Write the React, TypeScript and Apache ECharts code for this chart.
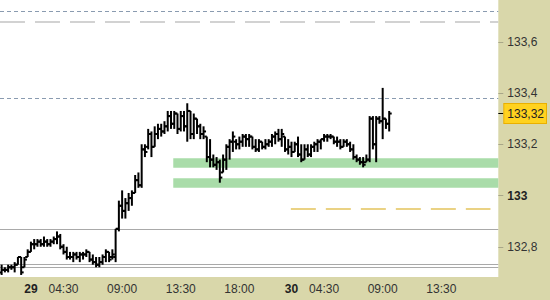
import React, { useEffect, useRef } from "react";
import * as echarts from "echarts";

// 15-minute bars, slot index on the x axis (session 02:00-22:00), slot 0 = 28th 19:45
const slotIndex: number[] = Array.from({ length: 120 }, (_, i) => i);
const opens: number[] = [
  132.70, 132.71, 132.71, 132.72, 132.72, 132.73, 132.76, 132.72, 132.76, 132.78,
  132.81, 132.81, 132.82, 132.81, 132.82, 132.81, 132.82, 132.83, 132.84, 132.80,
  132.78, 132.76, 132.76, 132.77, 132.76, 132.77, 132.77, 132.78, 132.75, 132.74,
  132.73, 132.74, 132.76, 132.78, 132.76, 132.76, 132.87, 132.96, 132.94, 132.97,
  132.99, 133.01, 133.06, 133.04, 133.18, 133.19, 133.24, 133.19, 133.24, 133.26,
  133.25, 133.27, 133.31, 133.28, 133.32, 133.26, 133.31, 133.27, 133.33, 133.24,
  133.30, 133.27, 133.24, 133.23, 133.15, 133.14, 133.12, 133.13, 133.09, 133.14,
  133.19, 133.21, 133.21, 133.20, 133.21, 133.23, 133.22, 133.23, 133.19, 133.18,
  133.21, 133.19, 133.20, 133.21, 133.23, 133.24, 133.22, 133.23, 133.18, 133.19,
  133.17, 133.20, 133.16, 133.14, 133.18, 133.16, 133.19, 133.20, 133.21, 133.22,
  133.23, 133.23, 133.23, 133.21, 133.21, 133.19, 133.21, 133.20, 133.18, 133.15,
  133.14, 133.13, 133.13, 133.14, 133.30, 133.20, 133.30, 133.29, 133.30, 133.28,
];
const highs: number[] = [
  132.73, 132.72, 132.73, 132.73, 132.74, 132.76, 132.76, 132.76, 132.79, 132.82,
  132.83, 132.83, 132.83, 132.84, 132.83, 132.83, 132.84, 132.86, 132.85, 132.81,
  132.80, 132.78, 132.78, 132.78, 132.78, 132.78, 132.79, 132.78, 132.77, 132.76,
  132.76, 132.77, 132.79, 132.78, 132.79, 132.87, 132.98, 133.02, 132.99, 133.01,
  133.02, 133.08, 133.09, 133.20, 133.20, 133.26, 133.25, 133.27, 133.28, 133.28,
  133.29, 133.33, 133.33, 133.33, 133.32, 133.33, 133.33, 133.36, 133.33, 133.32,
  133.30, 133.28, 133.27, 133.23, 133.22, 133.16, 133.15, 133.14, 133.16, 133.20,
  133.22, 133.25, 133.22, 133.23, 133.24, 133.24, 133.24, 133.23, 133.22, 133.22,
  133.21, 133.22, 133.22, 133.24, 133.25, 133.26, 133.26, 133.23, 133.22, 133.21,
  133.21, 133.23, 133.20, 133.20, 133.20, 133.20, 133.21, 133.22, 133.22, 133.24,
  133.24, 133.24, 133.23, 133.23, 133.22, 133.22, 133.22, 133.21, 133.20, 133.16,
  133.15, 133.15, 133.16, 133.31, 133.31, 133.31, 133.31, 133.42, 133.30, 133.33,
];
const lows: number[] = [
  132.69, 132.70, 132.70, 132.71, 132.70, 132.73, 132.69, 132.72, 132.76, 132.78,
  132.79, 132.80, 132.80, 132.80, 132.80, 132.80, 132.81, 132.81, 132.79, 132.77,
  132.75, 132.75, 132.74, 132.75, 132.74, 132.75, 132.76, 132.74, 132.73, 132.72,
  132.72, 132.73, 132.74, 132.74, 132.75, 132.74, 132.86, 132.91, 132.91, 132.94,
  132.96, 133.01, 133.03, 133.03, 133.15, 133.18, 133.15, 133.19, 133.22, 133.23,
  133.24, 133.25, 133.26, 133.26, 133.24, 133.25, 133.25, 133.21, 133.22, 133.22,
  133.24, 133.22, 133.22, 133.13, 133.11, 133.11, 133.10, 133.05, 133.09, 133.10,
  133.14, 133.17, 133.18, 133.18, 133.19, 133.19, 133.19, 133.18, 133.17, 133.17,
  133.18, 133.18, 133.19, 133.19, 133.20, 133.21, 133.19, 133.17, 133.16, 133.15,
  133.17, 133.15, 133.13, 133.14, 133.15, 133.15, 133.17, 133.17, 133.18, 133.21,
  133.21, 133.22, 133.20, 133.19, 133.18, 133.19, 133.19, 133.17, 133.14, 133.13,
  133.12, 133.11, 133.13, 133.13, 133.18, 133.13, 133.28, 133.22, 133.26, 133.25,
];
const closes: number[] = [
  132.71, 132.71, 132.72, 132.72, 132.73, 132.76, 132.70, 132.75, 132.78, 132.81,
  132.81, 132.82, 132.81, 132.82, 132.81, 132.82, 132.83, 132.84, 132.80, 132.78,
  132.76, 132.76, 132.77, 132.76, 132.77, 132.77, 132.78, 132.75, 132.74, 132.73,
  132.74, 132.76, 132.78, 132.75, 132.77, 132.87, 132.96, 132.94, 132.97, 132.99,
  133.01, 133.06, 133.04, 133.18, 133.17, 133.24, 133.19, 133.24, 133.26, 133.25,
  133.27, 133.31, 133.28, 133.32, 133.26, 133.31, 133.27, 133.33, 133.24, 133.30,
  133.27, 133.24, 133.25, 133.15, 133.14, 133.12, 133.13, 133.07, 133.14, 133.19,
  133.21, 133.23, 133.20, 133.21, 133.23, 133.22, 133.23, 133.19, 133.18, 133.21,
  133.19, 133.20, 133.21, 133.23, 133.24, 133.22, 133.24, 133.18, 133.19, 133.17,
  133.20, 133.16, 133.14, 133.18, 133.16, 133.19, 133.20, 133.21, 133.22, 133.23,
  133.23, 133.23, 133.21, 133.21, 133.19, 133.21, 133.20, 133.18, 133.15, 133.14,
  133.13, 133.12, 133.14, 133.30, 133.20, 133.30, 133.29, 133.30, 133.28, 133.32,
];

const lastPrice = 133.32;

// axis
const slotMin = -0.5;
const slotMax = 152.5;
const yMin = 132.682;
const yMax = 133.763;
const yTickValues: number[] = [132.8, 133, 133.2, 133.4, 133.6];
const xTickSlots: number[] = [9, 19, 37, 55, 73, 89, 99, 117, 135];
const xTickLabels: string[] = ["29", "04:30", "09:00", "13:30", "18:00", "30", "04:30", "09:00", "13:30"];
const xTickIsDay: boolean[] = [true, false, false, false, false, true, false, false, false];

// reference levels
const blueDashedLevels: number[] = [133.724, 133.378];
const greyDashedLevels: number[] = [133.677];
const solidLevels: number[] = [132.874, 132.727, 132.717];
const targetLevel = 132.947;
const targetSlots: number[] = [88.8, 150.1];
const zoneStartSlot = 52.7;
const zoneBands: number[][] = [
  [133.108, 133.145],
  [133.03, 133.067],
];

const PANEL = "#d9d7aa";

function fmtY(v: number): string {
  if (Math.abs(v - 133) < 1e-9) return "{b|133}";
  return (Math.round(v * 10) / 10).toFixed(1).replace(".", ",");
}

export default function App() {
  const ref = useRef<HTMLDivElement>(null);
  useEffect(() => {
    if (!ref.current) return;
    const chart = echarts.init(ref.current, null, { renderer: "svg" });
    const ohlc = slotIndex.map((i) => [i, opens[i], highs[i], lows[i], closes[i]]);
    const font = "Arial, 'Liberation Sans', sans-serif";

    const markLineData: any[] = [];
    blueDashedLevels.forEach((v) =>
      markLineData.push({ yAxis: v, lineStyle: { color: "#8a9bb0", width: 1, type: [4, 3] } })
    );
    greyDashedLevels.forEach((v) =>
      markLineData.push({ yAxis: v, lineStyle: { color: "#c4c4c4", width: 1.5, type: [25, 10] } })
    );
    solidLevels.forEach((v) =>
      markLineData.push({ yAxis: v, lineStyle: { color: "#a9a9a9", width: 1, type: "solid" } })
    );
    markLineData.push([
      { coord: [targetSlots[0], targetLevel], lineStyle: { color: "#e3c35c", width: 1.5, type: [25, 10] } },
      { coord: [targetSlots[1], targetLevel] },
    ]);

    chart.setOption({
      animation: false,
      backgroundColor: PANEL,
      grid: {
        left: 0,
        top: 0,
        right: 51,
        bottom: 23,
        show: true,
        backgroundColor: "#ffffff",
        borderWidth: 0,
      },
      xAxis: {
        type: "value",
        min: slotMin,
        max: slotMax,
        axisLine: { show: false, onZero: false },
        axisTick: { show: false },
        splitLine: { show: false },
        axisLabel: {
          customValues: xTickSlots,
          margin: 6,
          fontSize: 12,
          fontFamily: font,
          color: "#333",
          formatter: (v: number) => {
            const k = xTickSlots.indexOf(Math.round(v));
            if (k < 0) return "";
            return xTickIsDay[k] ? `{d|${xTickLabels[k]}}` : xTickLabels[k];
          },
          rich: { d: { fontWeight: "bold", fontSize: 12, fontFamily: font, color: "#222" } },
        },
      },
      yAxis: [
        {
          type: "value",
          position: "right",
          min: yMin,
          max: yMax,
          axisLine: { show: false, onZero: false },
          splitLine: { show: false },
          axisTick: {
            show: true,
            customValues: yTickValues,
            length: 5,
            lineStyle: { color: "#a8a688" },
          },
          axisLabel: {
            customValues: yTickValues,
            margin: 9,
            fontSize: 12,
            fontFamily: font,
            color: "#333",
            formatter: fmtY,
            rich: { b: { fontWeight: "bold", fontSize: 12, fontFamily: font, color: "#222" } },
          },
        },
        {
          type: "value",
          position: "right",
          min: yMin,
          max: yMax,
          axisLine: { show: false, onZero: false },
          splitLine: { show: false },
          axisTick: {
            show: true,
            customValues: [lastPrice],
            length: 5,
            lineStyle: { color: "#000" },
          },
          axisLabel: {
            customValues: [lastPrice],
            margin: 6,
            fontSize: 12,
            fontFamily: font,
            color: "#222",
            backgroundColor: "#ffd21f",
            borderColor: "#eab000",
            borderWidth: 1,
            padding: [4, 2, 3, 3],
            formatter: (v: number) => v.toFixed(2).replace(".", ","),
          },
        },
      ],
      series: [
        {
          type: "line",
          data: [],
          z: 1,
          silent: true,
          markArea: {
            silent: true,
            itemStyle: { color: "#a9dca9" },
            data: zoneBands.map((b) => [
              { coord: [zoneStartSlot, b[1]] },
              { coord: [slotMax, b[0]] },
            ]),
          },
          markLine: {
            silent: true,
            symbol: "none",
            label: { show: false },
            data: markLineData,
          },
        },
        {
          type: "custom",
          z: 5,
          data: ohlc,
          encode: { x: 0, y: [1, 2, 3, 4] },
          clip: true,
          renderItem: (params: any, api: any) => {
            const x = api.value(0);
            const pO = api.coord([x, api.value(1)]);
            const pH = api.coord([x, api.value(2)]);
            const pL = api.coord([x, api.value(3)]);
            const pC = api.coord([x, api.value(4)]);
            const st = { stroke: "#000", lineWidth: 2 };
            return {
              type: "group",
              children: [
                { type: "line", shape: { x1: pH[0], y1: pH[1], x2: pL[0], y2: pL[1] }, style: st },
                { type: "line", shape: { x1: pO[0] - 2.5, y1: pO[1], x2: pO[0], y2: pO[1] }, style: st },
                { type: "line", shape: { x1: pC[0], y1: pC[1], x2: pC[0] + 2.5, y2: pC[1] }, style: st },
              ],
            };
          },
        },
      ],
    });
    return () => chart.dispose();
  }, []);
  return (
    <div
      ref={ref}
      style={{ position: "fixed", left: 0, top: 0, width: 550, height: 300 }}
    />
  );
}
